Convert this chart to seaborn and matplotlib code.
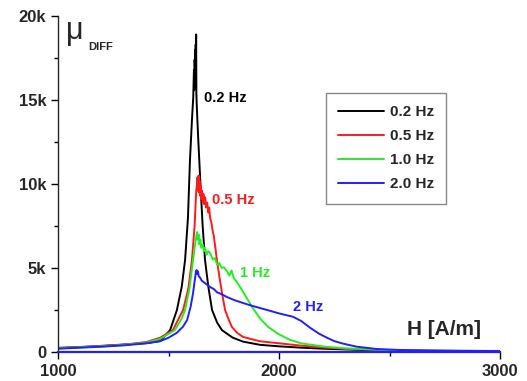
import numpy as np
import pandas as pd
import matplotlib
matplotlib.use("Agg")
import matplotlib.pyplot as plt
from matplotlib.ticker import MultipleLocator, FuncFormatter
from matplotlib.lines import Line2D
import seaborn as sns

# Differential permeability vs. field strength, per excitation frequency
h_02 = [1000, 1100, 1200, 1300, 1400, 1462, 1507, 1538, 1560, 1575, 1588, 1597,
        1606, 1612, 1615, 1617, 1618, 1620, 1621, 1622, 1623, 1624, 1625,
        1626, 1628, 1634, 1643, 1654, 1665, 1680, 1697, 1720, 1742, 1790, 1837,
        1914, 2000, 2100, 2200, 2400, 2600, 3000]
mu_02 = [250, 300, 370, 450, 530, 650, 1300, 2500, 3900, 5480, 8000, 11400,
         13800, 15200, 16800, 15600, 17400, 16500, 18000, 16900, 18300, 17300, 18900,
         15400, 14600, 12800, 10400, 7600, 5500, 3900, 2500, 1750, 1300, 860, 620,
         430, 340, 260, 200, 110, 60, 30]

h_05 = [1000, 1200, 1300, 1400, 1462, 1520, 1566, 1590, 1606, 1618, 1625, 1628,
        1631, 1633, 1636, 1638, 1640, 1643, 1645, 1648, 1652, 1655, 1658, 1662,
        1666, 1670, 1675, 1680, 1684, 1688, 1694, 1700, 1705, 1710, 1719, 1730,
        1742, 1756, 1770, 1787, 1810, 1837, 1914, 2000, 2100, 2200, 2300, 2500, 3000]
mu_05 = [230, 350, 440, 600, 850, 1310, 2500, 3800, 5480, 7500, 9500, 9900,
         10400, 9600, 10500, 9500, 10200, 9300, 9900, 9100, 9600, 8900, 9400, 8800,
         9200, 8600, 8900, 8300, 8600, 8000, 7700, 7200, 6900, 6400, 5480, 4500,
         3510, 2500, 2000, 1490, 1150, 900, 640, 520, 380, 270, 190, 100, 40]

h_10 = [1000, 1200, 1300, 1400, 1462, 1529, 1560, 1575, 1595, 1611, 1620, 1626,
        1629, 1632, 1636, 1640, 1644, 1648, 1655, 1660, 1665, 1672, 1680, 1688,
        1700, 1710, 1720, 1730, 1740, 1750, 1765, 1775, 1785, 1795, 1810, 1824,
        1850, 1882, 1914, 1950, 2000, 2050, 2100, 2200, 2300, 2500, 3000]
mu_10 = [220, 340, 420, 560, 780, 1310, 2000, 2500, 3800, 5480, 6400, 6900,
         7140, 6700, 7000, 6400, 6700, 6200, 6400, 6000, 6200, 5800, 6000, 5900,
         5500, 5600, 5200, 5300, 5000, 5050, 4800, 4550, 4850, 4400, 4150, 3870,
         3300, 2600, 2000, 1500, 1050, 720, 520, 330, 220, 110, 40]

h_20 = [1000, 1200, 1300, 1400, 1462, 1500, 1538, 1565, 1584, 1600, 1611, 1620,
        1624, 1627, 1630, 1633, 1637, 1642, 1650, 1660, 1675, 1688, 1705, 1720,
        1740, 1765, 1800, 1837, 1870, 1914, 1960, 2000, 2063, 2100, 2140, 2180,
        2217, 2250, 2290, 2350, 2443, 2550, 2700, 3000]
mu_20 = [200, 320, 400, 520, 650, 850, 1150, 1500, 1900, 2700, 3500, 4400,
         4750, 4880, 4650, 4800, 4500, 4450, 4250, 4150, 4000, 3870, 3750, 3550,
         3450, 3270, 3080, 2920, 2780, 2620, 2450, 2300, 2100, 1850, 1450, 1100,
         850, 650, 500, 320, 180, 120, 90, 60]

series_names = ["0.2 Hz", "0.5 Hz", "1.0 Hz", "2.0 Hz"]
curve_labels = ["0.2 Hz", "0.5 Hz", "1 Hz", "2 Hz"]
label_h = [1661, 1697, 1824, 2063]
label_mu = [15100, 9050, 4700, 2680]
colors = ["#000000", "#ff1a1a", "#22ee22", "#1f1fff"]

frames = []
for name, h, mu in zip(series_names, [h_02, h_05, h_10, h_20],
                       [mu_02, mu_05, mu_10, mu_20]):
    frames.append(pd.DataFrame({"H": h, "mu": mu, "f": name}))
df = pd.concat(frames, ignore_index=True)

sns.set_style("ticks")
plt.rcParams["font.family"] = ["Liberation Sans", "DejaVu Sans"]

fig = plt.figure(figsize=(5.27, 3.81), dpi=100)
ax = fig.add_axes([0.110, 0.076, 0.839, 0.882])

palette = dict(zip(series_names, colors))
sns.lineplot(data=df, x="H", y="mu", hue="f", palette=palette, sort=False,
             estimator=None, linewidth=1.4, legend=False, ax=ax)

ax.set_xlim(1000, 3000)
ax.set_ylim(0, 20000)
ax.xaxis.set_major_locator(MultipleLocator(1000))
ax.xaxis.set_minor_locator(MultipleLocator(500))
ax.yaxis.set_major_locator(MultipleLocator(5000))
ax.yaxis.set_minor_locator(MultipleLocator(2500))
ax.yaxis.set_major_formatter(FuncFormatter(
    lambda v, p: "0" if v == 0 else f"{int(v / 1000)}k"))
ax.tick_params(which="major", direction="out", length=5, width=1,
               labelsize=12, color="black")
ax.tick_params(which="minor", direction="out", length=3, width=1, color="black")
for lab in ax.get_xticklabels() + ax.get_yticklabels():
    lab.set_fontweight("bold")
ax.set_xlabel("")
ax.set_ylabel("")
sns.despine(ax=ax)
ax.spines["left"].set_linewidth(1)
ax.spines["bottom"].set_color("#1f1fff")
ax.spines["bottom"].set_linewidth(1.6)

# curve labels
for txt, hx, my, c in zip(curve_labels, label_h, label_mu, colors):
    ax.text(hx, my, txt, color=c, fontsize=10.5, fontweight="bold",
            ha="left", va="center")

# axis titles inside the plot area
ax.text(0.79, 0.066, "H [A/m]", transform=ax.transAxes, fontsize=15,
        fontweight="bold", ha="left", va="center")
ax.text(0.018, 0.955, "μ", transform=ax.transAxes, fontsize=22,
        ha="left", va="center")
ax.text(0.068, 0.908, "DIFF", transform=ax.transAxes, fontsize=8,
        fontweight="bold", ha="left", va="center")

handles = [Line2D([0], [0], color=c, lw=1.4) for c in colors]
leg = ax.legend(handles, series_names, loc="upper left",
                bbox_to_anchor=(0.606, 0.771), borderaxespad=0,
                frameon=True, fancybox=False,
                edgecolor="#888888", framealpha=1, handlelength=3.0,
                handletextpad=0.4, labelspacing=0.66, borderpad=0.8,
                prop={"weight": "bold", "size": 11})
leg.get_frame().set_linewidth(1)

fig.savefig("out.png", dpi=100)
